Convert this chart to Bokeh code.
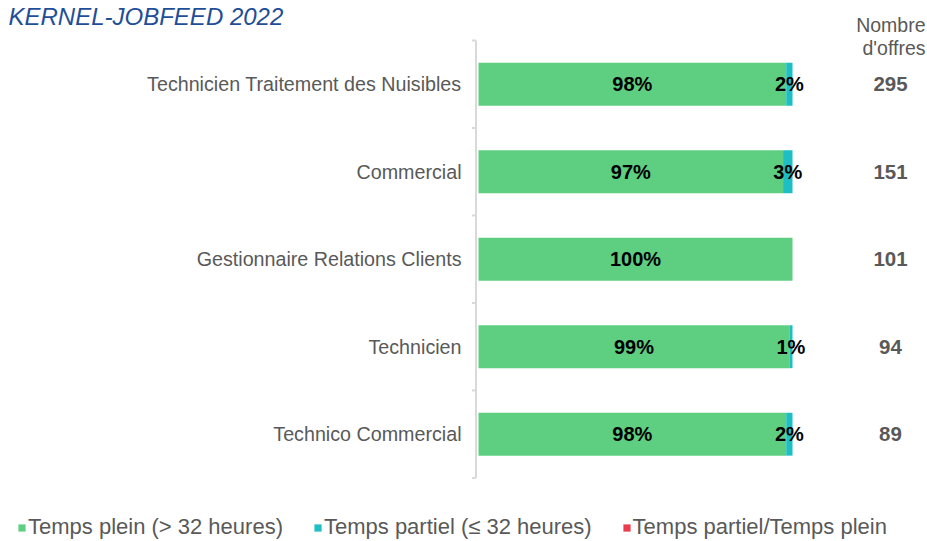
from bokeh.plotting import figure
from bokeh.models import ColumnDataSource, Range1d, Legend, LegendItem
from bokeh.core.properties import value
from bokeh.embed import file_html
from bokeh.resources import INLINE
import math

# ---- data ----
categories = ["Technicien Traitement des Nuisibles", "Commercial",
              "Gestionnaire Relations Clients", "Technicien", "Technico Commercial"]
full_time = [98, 97, 100, 99, 98]        # Temps plein (> 32 heures)
part_time = [2, 3, 0, 1, 2]              # Temps partiel (<= 32 heures)
mixed_time = [0, 0, 0, 0, 0]             # Temps partiel/Temps plein
offer_counts = [295, 151, 101, 94, 89]
series_names = ["Temps plein (> 32 heures)", "Temps partiel (\u2264 32 heures)",
                "Temps partiel/Temps plein"]
title_text = "KERNEL-JOBFEED 2022"
count_header = ["Nombre", "d'offres"]

# ---- style ----
GREEN = "#5ECF80"
TEAL = "#1DBEC4"
RED = "#EC3A4F"
GREY = "#595959"
FONT = "Liberation Sans"

W, H = 927, 541
PX_PER_PCT = 3.14
X0_PX = 478
ROW_PX = 87.5
ROW0_PX = 83.7

x_start = -X0_PX / PX_PER_PCT
x_end = (W - X0_PX) / PX_PER_PCT
y_top = -ROW0_PX / ROW_PX
y_bottom = (H - ROW0_PX) / ROW_PX

p = figure(width=W, height=H, output_backend="svg", toolbar_location=None,
           x_range=Range1d(x_start, x_end), y_range=Range1d(y_bottom, y_top),
           x_axis_location=None, y_axis_location=None, min_border=0,
           outline_line_color=None)
p.grid.visible = False
p.background_fill_color = "white"

n = len(categories)
ys = list(range(n))
left_full = [0] * n
right_full = full_time
left_part = full_time
right_part = [f + pt for f, pt in zip(full_time, part_time)]
left_mix = right_part
right_mix = [r + m for r, m in zip(right_part, mixed_time)]

src = ColumnDataSource(dict(y=ys, lf=left_full, rf=right_full, lp=left_part,
                            rp=right_part, lm=left_mix, rm=right_mix))
BAR_H = 0.49
r_full = p.hbar(y="y", left="lf", right="rf", height=BAR_H, source=src,
                fill_color=GREEN, line_color=None)
r_part = p.hbar(y="y", left="lp", right="rp", height=BAR_H, source=src,
                fill_color=TEAL, line_color=None)
r_mix = p.hbar(y="y", left="lm", right="rm", height=BAR_H, source=src,
               fill_color=RED, line_color=None)

# percentage labels
lab_x, lab_y, lab_t = [], [], []
for i in range(n):
    if full_time[i] > 0:
        lab_x.append(full_time[i] / 2); lab_y.append(i); lab_t.append(f"{full_time[i]}%")
    if part_time[i] > 0:
        lab_x.append(full_time[i] + part_time[i] / 2); lab_y.append(i); lab_t.append(f"{part_time[i]}%")
p.text(x=lab_x, y=lab_y, text=lab_t, text_align="center", text_baseline="middle",
       text_font=value(FONT), text_font_style="bold", text_font_size="20px",
       text_color="black")

# category labels + axis
p.text(x=[0] * n, y=ys, text=categories, x_offset=-17, text_align="right",
       text_baseline="middle", text_font=value(FONT), text_font_size="19.7px",
       text_color=GREY)
axis_x = -2.5 / PX_PER_PCT
p.segment(x0=[axis_x], y0=[-0.5], x1=[axis_x], y1=[n - 0.5],
          line_color="#D9D9D9", line_width=2)
bounds = [i - 0.5 for i in range(n + 1)]
p.ray(x=[axis_x] * len(bounds), y=bounds, length=4, length_units="screen",
      angle=math.pi, line_color="#D9D9D9", line_width=2)

# counts column
count_x = (890 - X0_PX) / PX_PER_PCT
p.text(x=[count_x] * n, y=ys, text=[str(c) for c in offer_counts],
       text_align="center", text_baseline="middle", text_font=value(FONT),
       text_font_style="bold", text_font_size="20.5px", text_color=GREY)
for line, off in zip(count_header, [24, 47]):
    p.text(x=[x_end], y=[y_top], text=[line], x_offset=-2, y_offset=off,
           text_align="right", text_baseline="alphabetic", text_font=value(FONT),
           text_font_size="19.5px", text_color=GREY)

# title
p.text(x=[x_start], y=[y_top], text=[title_text], x_offset=8, y_offset=16,
       text_align="left", text_baseline="alphabetic", text_font=value(FONT),
       text_font_style="italic", text_font_size="24px", text_color="#1F4E99")

legend = Legend(items=[LegendItem(label=series_names[0], renderers=[r_full]),
                       LegendItem(label=series_names[1], renderers=[r_part]),
                       LegendItem(label=series_names[2], renderers=[r_mix])],
                orientation="horizontal", location=(17, 1), padding=0, margin=0,
                spacing=30, glyph_width=9, glyph_height=9, label_standoff=2,
                label_height=22,
                label_text_font=FONT, label_text_font_size="22px",
                label_text_color=GREY, border_line_color=None,
                background_fill_alpha=0)
p.add_layout(legend)

open("out.html", "w").write(file_html(p, INLINE))
